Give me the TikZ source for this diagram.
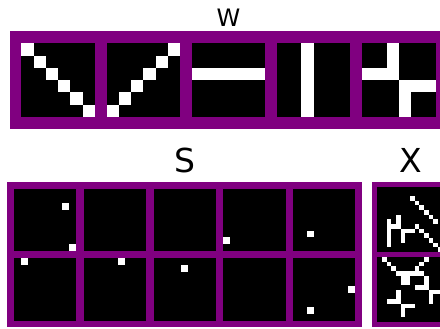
\documentclass[tikz,border=0pt]{standalone}
\usepackage{fontspec}
\setmainfont{DejaVu Sans}
\definecolor{mplpurple}{HTML}{800080}
\newcommand\mytile[5]{%
  \fill[tilebg] (#1,#2) rectangle ++(#4*#3,#4*#3);
  \foreach \r/\c in {#5} {\fill[pix] (#1+\c*#3,#2+\r*#3) rectangle ++(#3,#3);}%
}
\newcommand\myempty[4]{\fill[tilebg] (#1,#2) rectangle ++(#4*#3,#4*#3);}
\begin{document}
\begin{tikzpicture}[x=1pt,y=-1pt,
  box/.style={fill=mplpurple},
  tilebg/.style={fill=black},
  pix/.style={fill=white},
  lbl/.style={inner sep=0pt,anchor=base}]
\useasboundingbox (0,0) rectangle (440,329);
\clip (0,0) rectangle (440,329);

% ---------- W ----------
\node[lbl,font=\fontsize{24}{24}\selectfont] (wl) at (228.5,26.5) {W};
\fill[box] (9.5,31.5) rectangle (448,129);
\def\p{12.25}
\mytile{21.3}{43.5}{\p}{6}{0/0,1/1,2/2,3/3,4/4,5/5}
\mytile{106.5}{43.5}{\p}{6}{0/5,1/4,2/3,3/2,4/1,5/0}
\mytile{191.7}{43.5}{\p}{6}{2/0,2/1,2/2,2/3,2/4,2/5}
\mytile{276.9}{43.5}{\p}{6}{0/2,1/2,2/2,3/2,4/2,5/2}
\mytile{362.1}{43.5}{\p}{6}{0/2,1/2,2/2,2/0,2/1,3/3,3/4,3/5,4/3,5/3}

% ---------- S ----------
\node[lbl,font=\fontsize{33}{33}\selectfont] (sl) at (184.5,172) {S};
\fill[box] (6.7,181.7) rectangle (362,327.3);
\def\q{6.92}
\mytile{14}{189}{\q}{9}{2/7,8/8}
\myempty{83.75}{189}{\q}{9}
\myempty{153.5}{189}{\q}{9}
\mytile{223.25}{189}{\q}{9}{7/0}
\mytile{293}{189}{\q}{9}{6/2}
\mytile{14}{258.3}{\q}{9}{0/1}
\mytile{83.75}{258.3}{\q}{9}{0/5}
\mytile{153.5}{258.3}{\q}{9}{1/4}
\myempty{223.25}{258.3}{\q}{9}
\mytile{293}{258.3}{\q}{9}{4/8,7/2}

% ---------- X ----------
\node[lbl,font=\fontsize{33}{33}\selectfont] (xl) at (411,172) {X};
\fill[box] (372.3,181.7) rectangle (448,327.3);
\def\s{4.65}
\mytile{377.4}{186.8}{\s}{14}{2/7,3/8,4/9,5/10,6/11,7/12,8/8,9/9,10/10,11/11,12/12,13/13,7/2,8/2,9/2,10/2,11/2,12/2,6/4,7/4,8/4,8/3,9/5,9/6,9/7,10/5,11/5}
\mytile{377.4}{257}{\s}{14}{0/1,1/2,2/3,3/4,4/5,5/6,0/10,1/9,2/8,3/7,4/6,5/5,3/5,3/6,3/8,3/9,4/10,5/10,6/10,6/8,6/9,7/11,7/12,7/13,8/11,9/11,7/4,8/4,9/4,9/2,9/3,10/5,10/6,10/7,11/5,12/5}
\end{tikzpicture}
\end{document}
